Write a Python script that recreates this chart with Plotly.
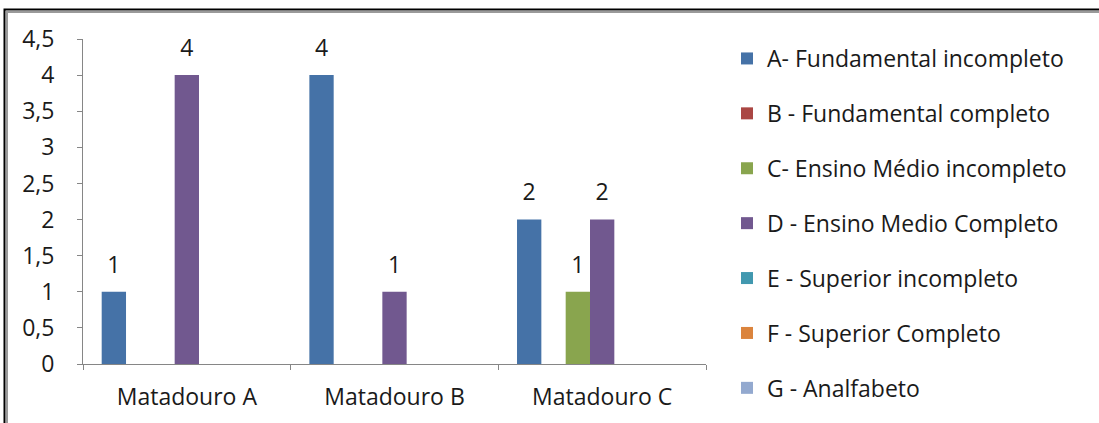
import plotly.graph_objects as go

# Categories and series values
categories = ["Matadouro A", "Matadouro B", "Matadouro C"]
series_names = [
    "A- Fundamental incompleto",
    "B - Fundamental completo",
    "C- Ensino Médio incompleto",
    "D - Ensino Medio Completo",
    "E - Superior incompleto",
    "F - Superior Completo",
    "G - Analfabeto",
]
fund_incompleto = [1, 4, 2]
fund_completo = [0, 0, 0]
medio_incompleto = [0, 0, 1]
medio_completo = [4, 1, 2]
sup_incompleto = [0, 0, 0]
sup_completo = [0, 0, 0]
analfabeto = [0, 0, 0]
y_ticks = [0, 0.5, 1, 1.5, 2, 2.5, 3, 3.5, 4, 4.5]

series_values = [fund_incompleto, fund_completo, medio_incompleto, medio_completo,
                 sup_incompleto, sup_completo, analfabeto]
colors = ["#4572A7", "#AA4643", "#89A54E", "#71588F", "#4198AF", "#DB843D", "#93A9CF"]

FONT = "Open Sans"
FSIZE = 23
TEXT = "#1a1a1a"
AXIS = "#868686"
GAP = 0.18

W, H = 1099, 423
L, R, T, B = 83, 393, 39, 59
PW, PH = W - L - R, H - T - B


def px_x(px):
    return (px - L) / PW


def px_y(py):
    return (H - B - py) / PH


fig = go.Figure()
for i, (name, vals, col) in enumerate(zip(series_names, series_values, colors)):
    fig.add_trace(go.Bar(
        name=name,
        x=categories,
        y=vals,
        marker=dict(color=col, line=dict(width=0)),
        legendgroup=f"g{i}",
        offsetgroup=f"g{i}",
    ))

# Value labels: grouped text markers sitting above each bar
for i, vals in enumerate(series_values):
    fig.add_trace(go.Scatter(
        x=categories,
        y=vals,
        mode="markers+text",
        text=[str(v) if v else "" for v in vals],
        textposition="top center",
        textfont=dict(family=FONT, size=FSIZE, color=TEXT),
        marker=dict(size=20, color="rgba(0,0,0,0)"),
        cliponaxis=False,
        showlegend=False,
        hoverinfo="skip",
        offsetgroup=f"g{i}",
    ))

# Chart frame
fig.add_shape(type="rect", xref="paper", yref="paper",
              x0=px_x(4.5), x1=px_x(1120), y0=px_y(450), y1=px_y(9.5),
              line=dict(color="#000000", width=2), fillcolor="rgba(0,0,0,0)")
fig.add_shape(type="rect", xref="paper", yref="paper",
              x0=px_x(7), x1=px_x(1120), y0=px_y(450), y1=px_y(12),
              line=dict(color="#9a9a9a", width=2), fillcolor="rgba(0,0,0,0)")

fig.update_layout(
    width=W, height=H,
    margin=dict(l=L, r=R, t=T, b=B, autoexpand=False),
    paper_bgcolor="white",
    plot_bgcolor="white",
    separators=",.",
    barmode="group",
    bargap=GAP,
    bargroupgap=0,
    scattermode="group",
    scattergap=GAP,
    showlegend=True,
    legend=dict(
        x=px_x(727), y=px_y(37), xanchor="left", yanchor="top",
        font=dict(family=FONT, size=FSIZE, color=TEXT),
        tracegroupgap=22,
        bgcolor="rgba(0,0,0,0)",
        maxheight=410,
    ),
    xaxis=dict(
        showline=True, linecolor=AXIS, linewidth=1,
        ticks="outside", tickson="boundaries", ticklen=5, tickcolor=AXIS,
        tickfont=dict(family=FONT, size=FSIZE, color=TEXT),
        ticklabelstandoff=12, automargin=False,
        showgrid=False, zeroline=False,
    ),
    yaxis=dict(
        range=[0, 4.5], tickvals=y_ticks,
        showline=True, linecolor=AXIS, linewidth=1,
        ticks="outside", ticklen=5, tickcolor=AXIS,
        tickfont=dict(family=FONT, size=FSIZE, color=TEXT),
        ticklabelstandoff=18, automargin=False,
        showgrid=False, zeroline=False,
    ),
)

fig.write_html("out.html")
